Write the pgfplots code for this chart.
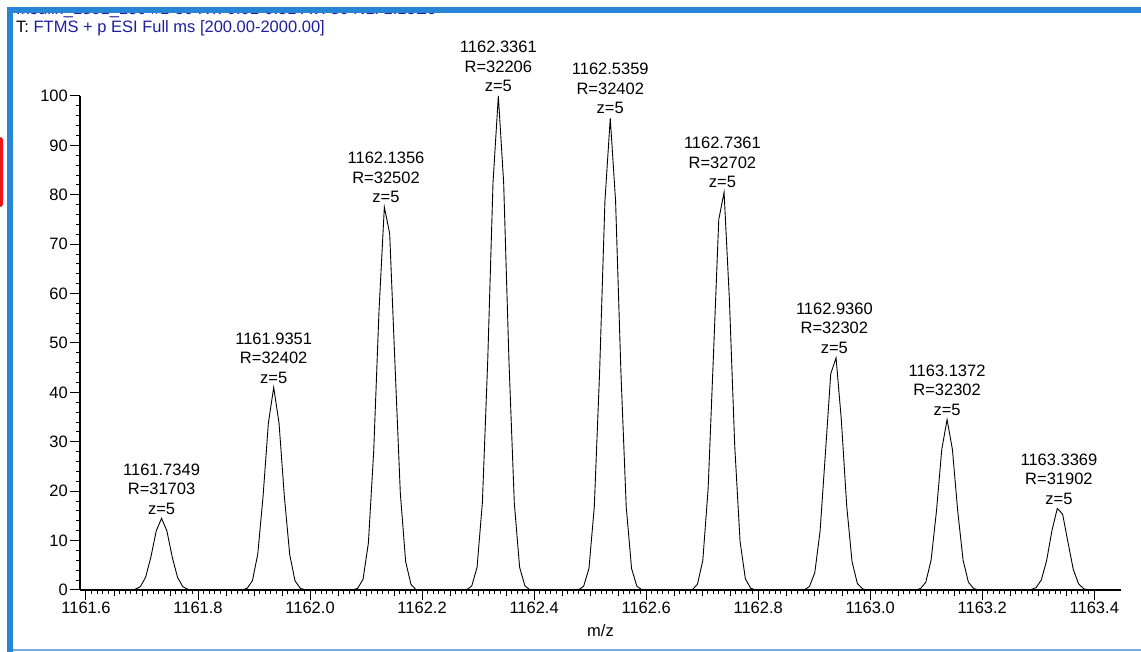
\documentclass[border=0pt]{standalone}
\usepackage{pgfplots}
\pgfplotsset{compat=1.18}
\usepackage{fontspec}
\setmainfont{Liberation Sans}

\definecolor{frameblue}{RGB}{40,132,212}
\definecolor{lineblue}{RGB}{120,170,222}
\definecolor{titleblue}{RGB}{30,30,160}
\definecolor{tabred}{RGB}{240,20,20}

\newcommand{\chartfont}{\fontsize{16.5}{19.5}\selectfont}
% centroid label above a peak: m/z, resolution, charge
\newcommand{\peaklabel}[4]{%
  \node[anchor=south, align=center, inner sep=0pt, yshift=4pt, font=\chartfont]
    at (axis cs:#1,#2) {#1\\R=#3\\z=#4};}

\begin{document}
\begin{tikzpicture}[x=1pt,y=1pt,font=\chartfont]
\path[use as bounding box] (0,0) rectangle (1141,652);

% scan header; the window content is scrolled so the first line is cut off
\begin{scope}
  \clip (13,0) rectangle (1141,639);
  \node[anchor=base west, inner sep=0pt, text=titleblue] at (16,637.8)
    {Insulin\_1301\_150 \#1-30 RT: 0.01-0.51 AV: 30 NL: 1.15E6};
\end{scope}
\node[anchor=base west, inner sep=0pt] at (16,619)
  {T: \textcolor{titleblue}{FTMS + p ESI Full ms [200.00-2000.00]}};

% window frame
\fill[frameblue] (7,0) rectangle (13,645);
\fill[frameblue] (7,639) rectangle (1145,645);
\fill[lineblue] (13,1.2) rectangle (1145,2.8);
\fill[tabred, rounded corners=3pt] (-10,445) rectangle (3,515);

\begin{axis}[
  at={(80pt,62pt)}, anchor=south west,
  scale only axis, width=1041pt, height=494pt,
  xmin=1161.5893, xmax=1163.4477, ymin=0, ymax=100,
  axis lines=left, axis line style={-, line width=1.3pt, black},
  clip=false,
  tick align=outside,
  major tick length=10pt, minor tick length=4.5pt,
  tick style={black, line width=1pt},
  xtick={1161.6,1161.8,1162.0,1162.2,1162.4,1162.6,1162.8,1163.0,1163.2,1163.4},
  xticklabels={1161.6,1161.8,1162.0,1162.2,1162.4,1162.6,1162.8,1163.0,1163.2,1163.4},
  minor x tick num=19,
  extra x ticks={1161.65,1161.70,1161.75,1161.85,1161.90,1161.95,
    1162.05,1162.10,1162.15,1162.25,1162.30,1162.35,
    1162.45,1162.50,1162.55,1162.65,1162.70,1162.75,
    1162.85,1162.90,1162.95,1163.05,1163.10,1163.15,
    1163.25,1163.30,1163.35},
  extra x tick labels={},
  extra x tick style={major tick length=6.5pt},
  ytick={0,10,20,30,40,50,60,70,80,90,100},
  minor y tick num=4,
  /pgf/number format/assume math mode=true,
  tick label style={font=\chartfont, black},
  yticklabel style={anchor=east, inner sep=0pt, xshift=-2pt},
  xticklabel style={anchor=north, inner sep=0pt, yshift=-2pt},
  xlabel={m/z},
  xlabel style={at={(axis description cs:0.5,0)}, anchor=base, inner sep=0pt, yshift=-47pt, font=\chartfont},
]
\addplot[black, line width=0.9pt, sharp plot, mark=none] coordinates {
  (1161.5893,0)
  % 1161.7349
  (1161.6779,0) (1161.6874,0.12) (1161.6969,0.66) (1161.7064,2.56) (1161.7159,6.70)
  (1161.7254,11.96) (1161.7349,14.5) (1161.7444,11.96) (1161.7539,6.70)
  (1161.7634,2.56) (1161.7729,0.66) (1161.7824,0.12) (1161.7919,0)
  % 1161.9351
  (1161.8781,0) (1161.8876,0.33) (1161.8971,1.87) (1161.9066,7.23) (1161.9161,18.96)
  (1161.9256,33.81) (1161.9351,41.0) (1161.9446,33.81) (1161.9541,18.96)
  (1161.9636,7.23) (1161.9731,1.87) (1161.9826,0.33) (1161.9921,0)
  % 1162.1356
  (1162.0756,0) (1162.0851,0.34) (1162.0946,2.18) (1162.1041,9.48) (1162.1136,28.09)
  (1162.1231,56.57) (1162.1326,77.5) (1162.1421,72.18) (1162.1516,45.72)
  (1162.1611,19.69) (1162.1706,5.77) (1162.1801,1.15) (1162.1896,0)
  % 1162.3361
  (1162.2791,0) (1162.2886,0.81) (1162.2981,4.57) (1162.3076,17.63) (1162.3171,46.24)
  (1162.3266,82.46) (1162.3361,100.0) (1162.3456,82.46) (1162.3551,46.24)
  (1162.3646,17.63) (1162.3741,4.57) (1162.3836,0.81) (1162.3931,0)
  % 1162.5359
  (1162.4789,0) (1162.4884,0.77) (1162.4979,4.36) (1162.5074,16.84) (1162.5169,44.16)
  (1162.5264,78.75) (1162.5359,95.5) (1162.5454,78.75) (1162.5549,44.16)
  (1162.5644,16.84) (1162.5739,4.36) (1162.5834,0.77) (1162.5929,0)
  % 1162.7361
  (1162.6821,0) (1162.6916,1.19) (1162.7011,5.99) (1162.7106,20.45) (1162.7201,47.49)
  (1162.7296,74.98) (1162.7391,80.5) (1162.7486,58.76) (1162.7581,29.17)
  (1162.7676,9.85) (1162.7771,2.26) (1162.7866,0.35) (1162.7961,0)
  % 1162.9360
  (1162.8820,0) (1162.8915,0.70) (1162.9010,3.50) (1162.9105,11.94) (1162.9200,27.73)
  (1162.9295,43.78) (1162.9390,47.0) (1162.9485,34.31) (1162.9580,17.03)
  (1162.9675,5.75) (1162.9770,1.32) (1162.9865,0.21) (1162.9960,0)
  % 1163.1372
  (1163.0802,0) (1163.0897,0.28) (1163.0992,1.58) (1163.1087,6.08) (1163.1182,15.95)
  (1163.1277,28.45) (1163.1372,34.5) (1163.1467,28.45) (1163.1562,15.95)
  (1163.1657,6.08) (1163.1752,1.58) (1163.1847,0.28) (1163.1942,0)
  % 1163.3369
  (1163.2769,0) (1163.2864,0.07) (1163.2959,0.46) (1163.3054,2.02) (1163.3149,5.98)
  (1163.3244,12.04) (1163.3339,16.5) (1163.3434,15.37) (1163.3529,9.73)
  (1163.3624,4.19) (1163.3719,1.23) (1163.3814,0.24) (1163.3909,0)
  (1163.4477,0)
};
\peaklabel{1161.7349}{14.5}{31703}{5}
\peaklabel{1161.9351}{41.0}{32402}{5}
\peaklabel{1162.1356}{77.5}{32502}{5}
\peaklabel{1162.3361}{100.0}{32206}{5}
\peaklabel{1162.5359}{95.5}{32402}{5}
\peaklabel{1162.7361}{80.5}{32702}{5}
\peaklabel{1162.9360}{47.0}{32302}{5}
\peaklabel{1163.1372}{34.5}{32302}{5}
\peaklabel{1163.3369}{16.5}{31902}{5}
\end{axis}
\end{tikzpicture}
\end{document}
